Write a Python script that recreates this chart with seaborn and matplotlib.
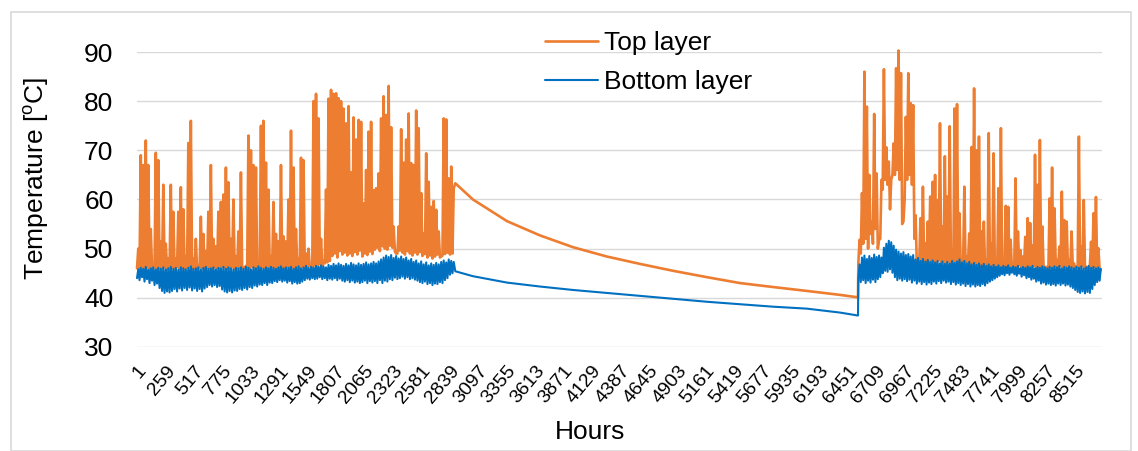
import numpy as np
import pandas as pd
import seaborn as sns
import matplotlib.pyplot as plt
from matplotlib.patches import Rectangle

# Top layer, first heating period (hours 1-2887): daily peaks and troughs
top1_high = [50, 69, 67, 72, 67, 54, 46, 69.5, 68, 51.5,
             63, 51, 48, 63, 57.5, 48, 57.5, 62.5, 58, 48.5,
             71.5, 76, 48, 52, 46.5, 56.5, 53, 49.5, 57.5, 67,
             52, 50.5, 57.5, 59.5, 61, 66.5, 63.5, 52, 60, 48.5,
             53.5, 65.5, 46, 46.5, 73, 70, 67, 66.5, 47, 75,
             76, 67.5, 62, 48.5, 59.5, 53, 51.5, 67, 52.5, 51.5,
             60, 74, 66.5, 54, 48, 68.5, 68, 49, 50, 46.5,
             80, 81.5, 76.5, 52, 47.5, 62, 80.5, 82.3, 81.5, 81.6,
             80.6, 80, 78.5, 75.5, 79, 65.5, 76.7, 72.2, 76.2, 75.8,
             59.2, 66, 73.8, 75.8, 61.9, 62.3, 65.3, 76.5, 81, 77.2,
             83.1, 74.7, 54.5, 49, 54.5, 74.3, 67.5, 72.2, 77.5, 67.4,
             67, 78.1, 74.5, 61.3, 53.1, 69.4, 63.6, 58.5, 59.7, 57.9,
             53.5, 48.4, 76.5, 76.3, 64.3, 66.7, 62.3]
top1_low = [46, 45.8, 46.2, 45.9, 46.1, 45.7, 46, 46.3, 45.8, 46,
            45.9, 46.2, 45.8, 46, 46.1, 45.7, 46.2, 45.9, 46, 45.8,
            46.1, 46.3, 45.9, 46, 45.8, 46.2, 46, 45.7, 46.1, 46,
            45.9, 46.2, 46, 45.8, 46.3, 46.1, 45.9, 46, 46.2, 45.8,
            46, 46.1, 45.9, 46.2, 46, 45.8, 46.3, 46, 46.1, 45.9,
            46.2, 46, 45.8, 46.1, 46.3, 46, 45.9, 46.2, 46, 46.1,
            46.3, 46, 46.2, 45.9, 46.4, 46.1, 46.3, 46, 46.2, 46.5,
            46.3, 46.6, 46.4, 46.8, 46.5, 47, 47.2, 47.5, 48.5, 49,
            48.2, 49.5, 48.8, 49.2, 48.6, 49, 48.5, 49.3, 48.8, 49.6,
            48.4, 49, 48.7, 49.4, 48.9, 49.8, 50.2, 49.5, 50.5, 50,
            49.8, 50.6, 50.2, 49.4, 49, 49.6, 49.2, 48.8, 49.5, 49,
            48.6, 49.2, 48.8, 49.3, 48.5, 48.9, 48.2, 48.6, 48, 48.4,
            48.8, 48.2, 48.6, 48.9, 49.2, 48.8, 49]

# Bottom layer, first heating period
bot1_high = [45.8, 46.1, 45.9, 46.3, 45.7, 46.0, 46.2, 45.8, 46.1, 45.9,
             46.2, 45.8, 46.0, 46.3, 45.9, 46.1, 45.7, 46.2, 46.0, 45.8,
             46.1, 46.4, 45.9, 46.0, 46.2, 45.8, 46.1, 46.3, 45.9, 46.0,
             46.2, 45.8, 46.1, 46.0, 46.3, 45.9, 46.2, 46.0, 45.8, 46.1,
             46.0, 46.2, 45.9, 46.3, 46.1, 45.8, 46.2, 46.0, 46.4, 46.1,
             45.9, 46.2, 46.0, 46.3, 46.1, 45.9, 46.2, 46.4, 46.0, 46.2,
             46.1, 46.3, 45.9, 46.2, 46.4, 46.0, 46.2, 46.5, 46.1, 46.3,
             46.2, 46.5, 46.3, 46.6, 46.4, 46.2, 46.7, 46.5, 46.9, 46.6,
             47.0, 46.7, 46.5, 46.9, 46.6, 47.1, 46.8, 46.6, 47.0, 46.7,
             46.9, 47.2, 46.8, 47.0, 47.3, 47.0, 47.4, 47.8, 48.2, 48.6,
             48.3, 48.7, 48.1, 48.5, 48.0, 48.4, 47.9, 48.2, 47.6, 47.9,
             47.3, 47.6, 47.0, 47.4, 46.8, 47.2, 46.6, 47.0, 46.7, 47.1,
             46.8, 47.3, 47.6, 47.2, 47.8, 47.5, 47.3]
bot1_low = [44.0, 43.6, 44.2, 43.3, 43.8, 43.0, 43.5, 42.6, 42.9, 42.0,
            41.4, 41.0, 41.3, 41.1, 41.4, 41.8, 41.3, 41.9, 41.5, 42.0,
            41.6, 42.1, 41.5, 41.9, 41.4, 41.8, 41.3, 41.9, 42.2, 42.6,
            42.3, 42.6, 42.2, 42.4, 41.7, 41.3, 41.1, 41.4, 41.1, 41.5,
            41.4, 41.8, 41.6, 42.0, 41.7, 42.2, 42.0, 42.5, 42.3, 42.7,
            42.6, 43.0, 42.6, 43.1, 43.0, 43.4, 43.2, 43.6, 43.3, 43.5,
            43.1, 43.4, 42.9, 43.2, 42.9, 43.0, 43.3, 43.6, 43.9, 43.7,
            44.0, 43.8, 43.9, 44.2, 43.8, 44.0, 43.6, 43.9, 43.7, 44.0,
            43.6, 43.9, 43.5, 43.3, 43.6, 43.2, 43.5, 43.1, 43.3, 43.0,
            43.2, 43.5, 43.0, 43.4, 43.1, 43.4, 43.0, 43.6, 43.0, 43.5,
            43.3, 43.8, 43.6, 44.1, 43.8, 44.0, 44.3, 43.9, 44.2, 43.8,
            44.0, 43.7, 43.5, 43.2, 43.0, 43.3, 42.8, 43.0, 42.6, 42.9,
            42.8, 43.2, 43.0, 43.6, 44.0, 44.7, 45.0]

# Idle period: both layers cool down slowly
idle_hours = [2890, 3050, 3359, 3658, 3958, 4266, 4566, 4866, 5174, 5474, 5773, 6082, 6382, 6545]
top_idle = [63.3, 60.0, 55.6, 52.7, 50.3, 48.4, 46.9, 45.5, 44.2, 43.0, 42.2, 41.4, 40.6, 40.1]
bot_idle = [45.4, 44.4, 43.1, 42.3, 41.6, 41.0, 40.4, 39.8, 39.2, 38.7, 38.2, 37.8, 37.0, 36.4]

# Top layer, second heating period (hours 6548-8760)
top2_high = [51.8, 61.3, 86, 78.9, 65, 55.5, 77.4, 65.3, 51.8, 64,
             86.5, 70.6, 67.7, 64, 71.4, 86.7, 90.3, 85.7, 55.5, 76.8,
             85.7, 79.6, 79.2, 56.8, 46.3, 56.2, 62.6, 51.1, 55.5, 60.6,
             63.6, 65, 59.9, 75.5, 54.5, 68.8, 60.6, 74.9, 49, 78.5,
             79.4, 57.2, 47.7, 62.6, 48.4, 53.1, 70.7, 82.6, 70, 72.8,
             53.5, 55.5, 47.7, 73.5, 51.1, 69.4, 45.7, 62.3, 74.5, 47,
             58.7, 58.5, 51.8, 47, 64.3, 53.5, 49.7, 48.4, 52.4, 56.2,
             55.2, 50.7, 69.1, 63, 72.1, 54.5, 46.3, 46.3, 60.2, 66.5,
             58.2, 47.7, 50.4, 61.6, 55.8, 55.5, 47.7, 53.5, 47, 46.3,
             72.8, 50.4, 59.9, 46.3, 46, 51.4, 57.2, 60.5, 50.1, 45.7]
top2_low = [47.0, 49.0, 51.0, 52.0, 50.0, 53.0, 51.0, 54.0, 50.0, 52.0,
            62.0, 64.0, 63.0, 58.0, 65.0, 65.0, 66.0, 64.0, 55.0, 60.0,
            64.0, 65.0, 63.0, 52.0, 46.5, 47.2, 46.8, 47.5, 47.0, 47.4,
            46.9, 47.3, 47.0, 47.6, 46.8, 47.2, 46.9, 47.4, 46.7, 47.1,
            46.8, 47.2, 46.6, 47.0, 46.5, 46.9, 46.4, 46.8, 46.3, 46.7,
            46.2, 46.5, 46.0, 46.4, 46.1, 46.6, 46.3, 46.0, 46.4, 46.2,
            46.5, 46.1, 46.3, 46.0, 46.4, 46.2, 46.6, 46.1, 46.3, 46.0,
            46.4, 46.2, 46.5, 46.0, 46.3, 46.1, 46.4, 46.2, 46.0, 46.3,
            46.1, 46.4, 46.2, 46.5, 46.0, 46.3, 46.1, 46.4, 46.2, 46.0,
            46.3, 46.1, 46.4, 46.0, 46.2, 46.5, 46.1, 46.3, 46.0, 45.8]

# Bottom layer, second heating period
bot2_high = [46.8, 48.2, 48.6, 47.9, 48.5, 48.1, 48.8, 48.3, 48.6, 48.2,
             50.2, 51.0, 51.6, 51.3, 50.6, 49.8, 49.4, 49.0, 49.3, 48.7,
             48.9, 48.4, 48.7, 47.8, 48.1, 47.5, 47.9, 47.4, 47.7, 47.3,
             47.6, 47.2, 47.5, 47.0, 47.4, 46.9, 47.3, 47.0, 47.5, 47.1,
             47.4, 47.8, 47.2, 47.5, 47.0, 47.3, 46.8, 47.1, 46.7, 47.0,
             46.6, 46.9, 46.5, 46.8, 46.4, 46.7, 46.3, 46.6, 46.2, 46.5,
             46.3, 46.6, 46.1, 46.4, 46.2, 46.5, 46.0, 46.3, 46.1, 46.4,
             46.2, 46.5, 46.0, 46.3, 46.1, 46.4, 46.2, 46.0, 46.3, 46.1,
             46.4, 46.2, 46.5, 46.0, 46.3, 46.1, 46.4, 46.2, 46.0, 46.3,
             46.1, 46.4, 46.0, 46.2, 46.5, 46.1, 46.3, 46.0, 46.2, 45.9]
bot2_low = [44.0, 43.2, 43.6, 43.0, 43.5, 43.1, 43.7, 43.2, 43.8, 44.2,
            45.0, 45.5, 45.3, 45.8, 45.1, 44.2, 43.6, 43.9, 43.5, 43.8,
            43.4, 43.7, 43.1, 43.5, 42.9, 43.3, 42.8, 43.2, 42.7, 43.1,
            42.8, 43.3, 42.9, 43.4, 43.0, 43.5, 43.1, 43.3, 42.8, 43.2,
            42.7, 43.0, 42.6, 42.9, 42.4, 42.8, 42.3, 42.7, 42.3, 42.6,
            42.4, 42.8, 42.5, 43.0, 43.3, 43.6, 43.9, 44.2, 44.5, 44.8,
            44.6, 45.0, 44.7, 45.1, 44.8, 44.5, 44.9, 44.3, 44.6, 44.0,
            44.2, 43.7, 43.9, 43.3, 43.5, 42.9, 43.1, 42.7, 42.9, 42.6,
            42.8, 42.5, 42.9, 42.6, 42.9, 42.5, 42.7, 42.3, 42.0, 41.6,
            41.2, 41.0, 41.3, 40.9, 41.2, 41.0, 41.8, 42.6, 43.2, 43.5]

tick_labels = list(range(1, 8761, 258))

ORANGE = "#ED7D31"
BLUE = "#0070C0"


def zigzag(start, end, lows, highs):
    # one low and one high value per step, spread over the period
    step = (end - start) / len(highs)
    hours, temps = [], []
    for i, (lo, hi) in enumerate(zip(lows, highs)):
        hours += [start + i * step, start + (i + 0.5) * step]
        temps += [lo, hi]
    return hours, temps


h1, t1 = zigzag(1, 2887, top1_low, top1_high)
h2, t2 = zigzag(6548, 8760, top2_low, top2_high)
top = pd.DataFrame({"Hours": h1 + idle_hours + h2, "Temp": t1 + top_idle + t2})

h1, b1 = zigzag(1, 2887, bot1_low, bot1_high)
h2, b2 = zigzag(6548, 8760, bot2_low, bot2_high)
bottom = pd.DataFrame({"Hours": h1 + idle_hours + h2, "Temp": b1 + bot_idle + b2})

sns.set_theme(style="white")
plt.rcParams["font.family"] = ["Liberation Sans", "DejaVu Sans"]
plt.rcParams["mathtext.fontset"] = "custom"
plt.rcParams["mathtext.rm"] = "Liberation Sans"
plt.rcParams["text.color"] = "black"
plt.rcParams["axes.labelcolor"] = "black"
plt.rcParams["xtick.color"] = "black"
plt.rcParams["ytick.color"] = "black"

fig = plt.figure(figsize=(11.38, 4.51), dpi=100)
ax = fig.add_axes([0.1204, 0.2306, 0.8480, 0.6541])

sns.lineplot(data=top, x="Hours", y="Temp", ax=ax, color=ORANGE, linewidth=1.9,
             estimator=None, sort=False, label="Top layer", zorder=2)
sns.lineplot(data=bottom, x="Hours", y="Temp", ax=ax, color=BLUE, linewidth=1.5,
             estimator=None, sort=False, label="Bottom layer", zorder=3)
for line in ax.get_lines():
    line.set_clip_on(False)

ax.set_xlim(1, 8760)
ax.set_ylim(30, 90)
ax.set_yticks([30, 40, 50, 60, 70, 80, 90])
ax.set_xticks(tick_labels)
ax.set_xticklabels([str(t) for t in tick_labels], rotation=50, ha="right",
                   va="top", rotation_mode="anchor", fontsize=14)
ax.tick_params(axis="y", labelsize=19, length=0, pad=17)
ax.tick_params(axis="x", length=0, pad=11)
ax.yaxis.grid(True, color="#D9D9D9", linewidth=1.0)
ax.xaxis.grid(False)
for s in ax.spines.values():
    s.set_visible(False)

ax.set_ylabel("Temperature [$^{\\mathrm{o}}$C]", fontsize=19)
ax.yaxis.set_label_coords(-0.089, 0.573)
ax.set_xlabel("Hours", fontsize=19)
ax.xaxis.set_label_coords(0.469, -0.247)
ax.xaxis.label.set_va("top")

handles, labels = ax.get_legend_handles_labels()
ax.legend(handles, labels, loc="upper left", bbox_to_anchor=(545 / 1138, 1 - 31 / 451),
          bbox_transform=fig.transFigure, frameon=False, fontsize=19,
          handlelength=2.0, handletextpad=0.25, labelspacing=0.58,
          borderpad=0, borderaxespad=0)

fig.patches.append(Rectangle((11 / 1138, 0), 1120 / 1138, 439 / 451,
                             transform=fig.transFigure, fill=False,
                             edgecolor="#D9D9D9", linewidth=1.2))

fig.savefig("out.png", dpi=100)
plt.close(fig)
